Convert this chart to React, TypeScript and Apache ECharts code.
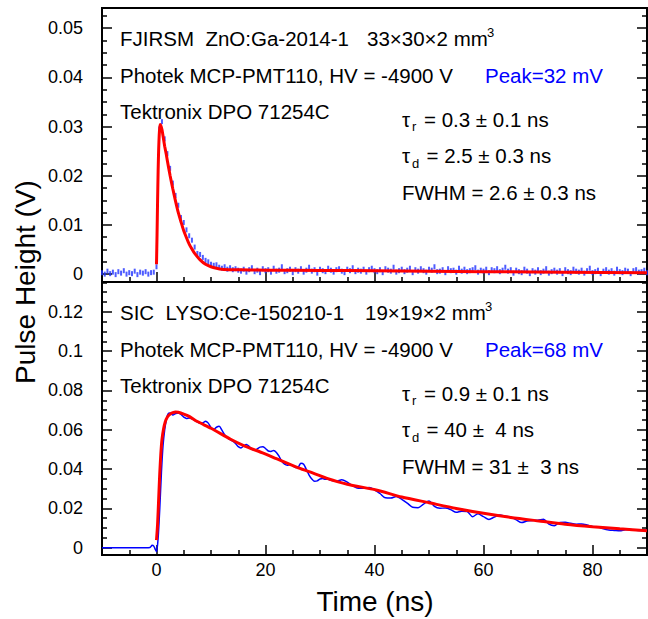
import React, { useEffect, useRef } from 'react';
import * as echarts from 'echarts';

const FONT = '"Liberation Sans", Arial, Helvetica, sans-serif';

// ---------- Top panel: FJIRSM ZnO:Ga, sampled every 0.5 ns from -10 ns (values in mV)
const znoStartNs = -10;
const znoStepNs = 0.5;
const znoBaselineMv = [0.3, 0.0, 0.6, 0.1, 0.4, -0.1, 0.5, 0.2, 0.7, 0.0, 0.3, 0.1, 0.6, -0.1, 0.4, 0.2, 0.5, 0.0, 0.3, 0.4];
const znoPulseMv = [1.5, 29.5, 31.0, 27.5, 24.5, 21.5, 18.5, 16.0, 14.0, 11.5, 10.5, 9.0, 7.8, 6.9, 5.5, 4.2, 4.0, 3.4, 2.8, 2.5, 2.0, 1.8, 1.9, 1.4, 1.2, 1.5, 1.0, 1.3, 0.9, 1.1, 0.8];
const znoTail1Mv = [0.6, 1.0, 0.4, 0.9, 1.3, 0.5, 0.8, 0.3, 1.1, 0.7, 0.9, 0.4, 1.2, 0.6, 0.8, 1.5, 0.5, 0.7, 1.0, 0.3, 0.9, 0.6, 1.1, 0.4, 0.8, 1.4, 0.6, 0.9, 0.2, 1.0, 0.7, 0.5, 1.2, 0.8, 0.4, 0.9, 1.1, 0.6, 0.3, 1.0, 0.7, 1.3, 0.5, 0.8, 0.6, 1.0, 0.4, 0.9, 1.2, 0.7];
const znoTail2Mv = [0.5, 0.9, 0.3, 1.1, 0.8, 0.6, 1.4, 0.4, 0.7, 1.0, 0.5, 0.8, 1.2, 0.3, 0.9, 0.6, 1.1, 0.7, 0.4, 1.0, 0.8, 1.5, 0.5, 0.6, 0.9, 0.3, 1.1, 0.7, 0.8, 0.4, 1.2, 0.6, 1.0, 0.5, 0.7, 0.9, 1.3, 0.4, 0.8, 0.6, 1.0, 0.3, 0.9, 0.7, 1.1, 0.5, 0.8, 1.4, 0.6, 0.9];
const znoTail3Mv = [0.2, 0.8, 0.5, 0.3, 1.0, 0.6, 0.1, 0.7, 0.4, 0.9, 0.3, 0.6, 1.1, 0.2, 0.5, 0.8, 0.4, 0.7, 0.1, 0.9, 0.5, 0.3, 1.0, 0.6, 0.4, 0.8, 0.2, 0.7, 1.2, 0.3, 0.5, 0.8, 0.1, 0.6, 0.9, 0.4, 0.7, 0.2, 1.0, 0.5, 0.3, 0.8, 0.6, 0.1, 0.7, 0.9, 0.4, 0.5, 0.8, 0.3];

const znoFitNs = [0, 0.1, 0.2, 0.3, 0.4, 0.5, 0.6, 0.7, 0.8, 1.0, 1.25, 1.5, 1.75, 2.0, 2.5, 3.0, 3.5, 4.0, 4.5, 5.0, 5.5, 6.0, 6.5, 7.0, 8.0, 9.0, 10.0, 11.0, 12.0, 14.0, 17, 20, 30, 40, 60, 90];
const znoFitMv = [2.0, 8.0, 15.0, 21.0, 25.5, 28.3, 29.8, 30.4, 30.4, 29.4, 27.7, 26.0, 24.6, 23.0, 20.0, 17.3, 14.8, 12.5, 10.6, 8.8, 7.4, 6.1, 5.1, 4.2, 2.9, 2.0, 1.5, 1.2, 1.0, 0.9, 0.85, 0.8, 0.75, 0.7, 0.5, 0.3];

// ---------- Bottom panel: SIC LYSO:Ce, [time ns, mV]
const lysoPulseMv: [number, number][] = [
  [-10, 0], [-2, 0], [-1.2, 0.1], [-0.8, 1.2], [-0.5, 0.8], [-0.2, -1.0], [0, -2.0], [0.3, 5], [0.6, 20], [0.9, 38], [1.2, 52], [1.5, 60], [1.8, 65], [2.1, 68],
  [2.5, 68.5], [3, 67.5], [3.5, 68.3], [4, 68.6], [4.5, 67.8], [5, 66.5], [5.5, 65.8], [6, 66.0], [6.5, 65.6], [7, 64.8], [7.5, 64.0], [8, 63.4], [8.5, 63.5],
  [9, 64.4], [9.5, 63.4], [10, 61.2], [10.5, 60.2], [11, 61.3], [11.5, 61.8], [12, 59.8], [12.5, 57.5], [13, 56.0], [13.5, 55.0], [14, 54.2], [14.5, 53.0],
  [15, 51.4], [15.5, 50.8], [16, 51.8], [16.5, 52.5], [17, 51.5], [17.5, 50.2], [18, 49.6], [18.5, 50.3], [19, 51.2], [19.5, 51.4], [20, 50.5], [20.5, 49.2],
  [21, 49.0], [21.5, 49.5], [22, 48.5], [22.5, 46.5], [23, 44.0], [23.5, 42.5], [24, 42.0], [24.5, 42.2], [25, 41.8], [25.5, 40.8], [26, 41.0], [26.5, 43.0],
  [27, 42.5], [27.5, 39.8], [28, 37.0], [28.5, 35.0], [29, 33.8], [29.5, 34.0], [30, 35.0], [30.5, 35.2], [31, 34.8], [31.5, 34.9], [32, 34.3], [33, 33.8],
  [34, 34.6], [35, 33.4], [36, 31.5], [37, 30.2], [38, 30.3], [39, 30.6], [40, 29.5], [41, 27.6], [42, 25.4], [43, 25.3], [44, 26.1], [45, 24.6], [46, 22.7],
  [47, 20.6], [48, 20.4], [49, 22.2], [50, 23.8], [51, 21.0], [52, 20.1], [53, 20.2], [54, 19.4], [55, 18.0], [56, 18.6], [57, 18.4], [58, 15.8], [59, 17.3],
  [60, 15.8], [61, 14.4], [62, 15.6], [63, 16.6], [64, 16.0], [65, 15.6], [66, 14.2], [67, 12.8], [68, 13.6], [69, 13.9], [70, 14.0], [71, 14.5], [72, 12.0],
  [73, 11.2], [74, 12.9], [75, 13.0], [76, 12.4], [77, 12.0], [78, 12.1], [79, 11.6], [80, 10.8], [81, 10.6], [82, 9.6], [83, 9.0], [84, 8.8], [85, 8.6],
  [86, 9.2], [87, 9.3], [88, 8.9], [89, 8.8], [90, 9.0],
];
const lysoFitMv: [number, number][] = [
  [0, 3.9], [0.2, 12], [0.4, 25], [0.6, 38], [0.8, 48], [1.0, 55], [1.3, 60.5], [1.6, 64], [2.0, 66.5], [2.5, 68], [3.0, 68.7], [3.5, 69.0], [4.0, 68.9],
  [5, 68.0], [6, 66.8], [7.5, 64.2], [10, 60.8], [13.6, 55.2], [16, 52.0], [19.7, 48.0], [22, 45.3], [25.8, 40.9], [28, 38.7], [31.3, 35.3], [35, 32.3],
  [40.3, 29.4], [45, 25.8], [50, 22.9], [55, 20.0], [60, 17.5], [65, 15.4], [70.2, 13.6], [75, 12.0], [80, 10.7], [85, 9.6], [90, 8.7],
];

// ---------- Axis ranges
const timeRange = [-10, 90];
const znoRangeV = [-0.0016, 0.0541];
const lysoRangeV = [-0.0037, 0.1352];

const toV = (mv: number) => mv / 1000;

export default function App() {
  const ref = useRef<HTMLDivElement>(null);

  useEffect(() => {
    if (!ref.current) return;
    const chart = echarts.init(ref.current, null, { renderer: 'svg' });

    const znoAll = [...znoBaselineMv, ...znoPulseMv, ...znoTail1Mv, ...znoTail2Mv, ...znoTail3Mv];
    const znoData = znoAll.map((v, i) => [znoStartNs + i * znoStepNs, toV(v)]);
    const znoFit = znoFitNs.map((t, i) => [t, toV(znoFitMv[i])]);
    const lysoData = lysoPulseMv.map(([t, v]) => [t, toV(v)]);
    const lysoFit = lysoFitMv.map(([t, v]) => [t, toV(v)]);

    const line = { color: '#000', width: 2 };
    const tickLine = { color: '#000', width: 1.5 };
    const labelStyle = { fontSize: 18, fontFamily: FONT, color: '#000' };

    const xAxis = (gridIndex: number, showLabel: boolean) => ({
      type: 'value', gridIndex, min: timeRange[0], max: timeRange[1], splitNumber: 5,
      axisLine: { show: true, onZero: false, lineStyle: line },
      axisTick: { show: true, inside: true, length: 10, lineStyle: tickLine },
      minorTick: { show: true, splitNumber: 4, length: 5, lineStyle: tickLine },
      splitLine: { show: false },
      axisLabel: { show: showLabel, showMinLabel: false, showMaxLabel: false, margin: 6, ...labelStyle },
    });
    const yAxis = (gridIndex: number, range: number[], split: number, position: string, showLabel: boolean) => ({
      type: 'value', gridIndex, min: range[0], max: range[1], splitNumber: split, position,
      axisLine: { show: true, onZero: false, lineStyle: line },
      axisTick: { show: true, inside: true, length: 10, lineStyle: tickLine },
      minorTick: { show: true, splitNumber: 4, length: 5, lineStyle: tickLine },
      splitLine: { show: false },
      axisLabel: { show: showLabel, showMinLabel: false, showMaxLabel: false, margin: 19, ...labelStyle },
    });

    const FS = 20.5;
    const txt = (x: number, y: number, text: string, size = FS, fill = '#000') => ({
      type: 'text', x, y, silent: true, z: 20,
      style: { text, fill, fontSize: size, fontFamily: FONT, verticalAlign: 'middle', align: 'left' },
    });

    const panelTexts = (dy: number, l1a: string, l1b: string, l1bX: number, supX: number, peak: string,
      tr: string, td: string, fwhm: string) => [
      txt(120, 38.5 + dy, l1a),
      txt(l1bX, 38.5 + dy, l1b),
      txt(supX, 32 + dy, '3', 13),
      txt(120, 75 + dy, 'Photek MCP-PMT110, HV = -4900 V'),
      txt(485, 75 + dy, peak, FS, '#0000ff'),
      txt(120, 111.7 + dy, 'Tektronix DPO 71254C'),
      txt(402, 119 + dy, 'τ'),
      txt(412, 126 + dy, 'r', 13),
      txt(424, 119 + dy, tr),
      txt(402, 155.8 + dy, 'τ'),
      txt(412, 163 + dy, 'd', 13),
      txt(426.5, 155.8 + dy, td),
      txt(402, 192.5 + dy, fwhm),
    ];

    const option = {
      animation: false,
      backgroundColor: '#fff',
      grid: [
        { left: 102, top: 8, width: 545, height: 274, show: true, borderColor: '#000', borderWidth: 2, backgroundColor: 'transparent' },
        { left: 102, top: 282, width: 545, height: 273, show: true, borderColor: '#000', borderWidth: 2, backgroundColor: 'transparent' },
      ],
      xAxis: [xAxis(0, false), xAxis(1, true)],
      yAxis: [
        yAxis(0, znoRangeV, 5, 'left', true),
        yAxis(0, znoRangeV, 5, 'right', false),
        yAxis(1, lysoRangeV, 7, 'left', true),
        yAxis(1, lysoRangeV, 7, 'right', false),
      ],
      series: [
        {
          type: 'scatter', xAxisIndex: 0, yAxisIndex: 0, data: znoData, symbol: 'rect', symbolSize: [2, 5],
          itemStyle: { color: '#2233ff' }, z: 2, silent: true,
        },
        {
          type: 'line', xAxisIndex: 0, yAxisIndex: 0, data: znoFit, showSymbol: false, smooth: 0.2,
          lineStyle: { color: '#ff0000', width: 3 }, z: 3, silent: true,
        },
        {
          type: 'line', xAxisIndex: 1, yAxisIndex: 2, data: lysoData, showSymbol: false, smooth: 0.3,
          lineStyle: { color: '#0000ff', width: 1.5 }, z: 2, silent: true,
        },
        {
          type: 'line', xAxisIndex: 1, yAxisIndex: 2, data: lysoFit, showSymbol: false, smooth: 0.25,
          lineStyle: { color: '#ff0000', width: 3 }, z: 3, silent: true,
        },
      ],
      graphic: [
        ...panelTexts(0, 'FJIRSM\u00a0\u00a0ZnO:Ga-2014-1', '33×30×2 mm', 367, 487, 'Peak=32 mV',
          '= 0.3 ± 0.1 ns', '= 2.5 ± 0.3 ns', 'FWHM = 2.6 ± 0.3 ns'),
        ...panelTexts(274, 'SIC\u00a0\u00a0LYSO:Ce-150210-1', '19×19×2 mm', 365, 485, 'Peak=68 mV',
          '= 0.9 ± 0.1 ns', '= 40 ±\u00a0\u00a04 ns', 'FWHM = 31 ±\u00a0\u00a03 ns'),
        {
          type: 'text', x: 25, y: 282, rotation: Math.PI / 2, silent: true,
          style: { text: 'Pulse Height (V)', fill: '#000', fontSize: 28, fontFamily: FONT, align: 'center', verticalAlign: 'middle' },
        },
        {
          type: 'text', x: 375, y: 601, silent: true,
          style: { text: 'Time (ns)', fill: '#000', fontSize: 28, fontFamily: FONT, align: 'center', verticalAlign: 'middle' },
        },
      ],
    };

    chart.setOption(option as any);
    return () => chart.dispose();
  }, []);

  return <div ref={ref} style={{ position: 'fixed', left: 0, top: 0, width: 648, height: 619 }} />;
}
